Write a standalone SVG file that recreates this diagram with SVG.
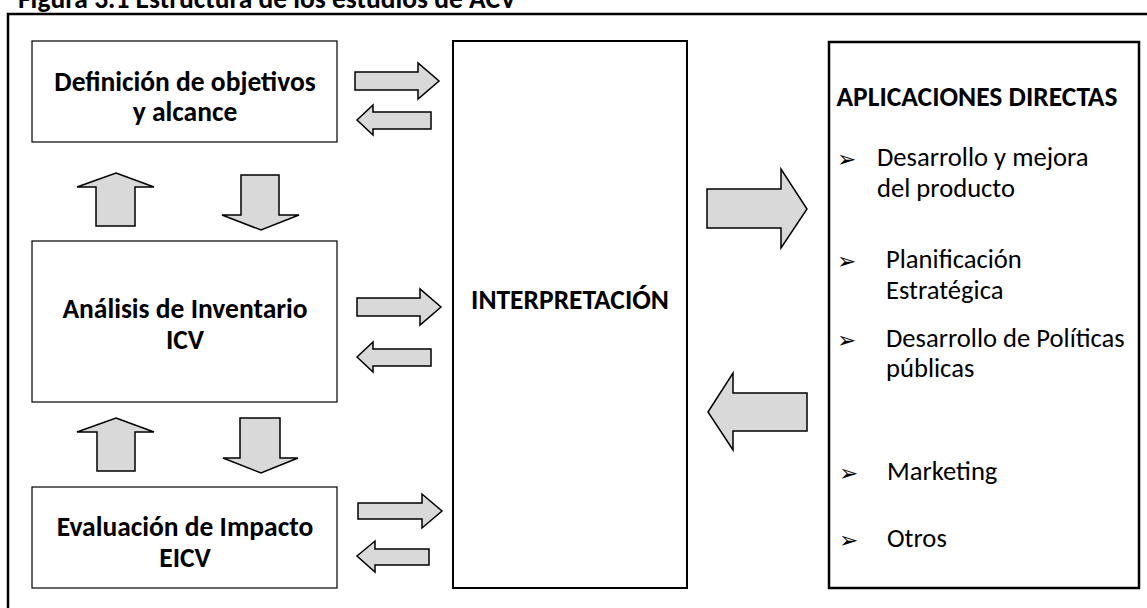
<svg xmlns="http://www.w3.org/2000/svg" width="1147" height="608" viewBox="0 0 1147 608">
  <style>
    text { font-family: Carlito, Lato, "Liberation Sans", sans-serif; fill: #000; }
    .b { font-weight: bold; font-size: 27.5px; text-anchor: middle; }
    .r { font-size: 26.6px; }
    .bul { font-family: "DejaVu Sans", sans-serif; font-size: 23px; }
    .box { fill: #fff; stroke: #000; stroke-width: 1.2; }
    .bigbox { fill: #fff; stroke: #000; stroke-width: 2; }
    .arr { fill: #d9d9d9; stroke: #000; stroke-width: 1.5; stroke-linejoin: miter; }
  </style>
  <rect width="1147" height="608" fill="#fff"/>

  <!-- title, clipped by the top edge -->
  <text x="18" y="8" font-size="27.5" font-weight="bold">Figura 3.1 Estructura de los estudios de ACV</text>

  <!-- outer frame running off the right and bottom edges -->
  <rect x="8" y="14" width="1160" height="620" fill="none" stroke="#000" stroke-width="2.5"/>

  <g id="definicion">
    <rect class="box" x="32" y="41" width="305" height="101"/>
    <text class="b" x="185" y="91">Definición de objetivos</text>
    <text class="b" x="185" y="121">y alcance</text>
  </g>

  <g id="analisis">
    <rect class="box" x="32" y="241" width="305" height="161"/>
    <text class="b" x="185" y="318">Análisis de Inventario</text>
    <text class="b" x="185" y="349">ICV</text>
  </g>

  <g id="evaluacion">
    <rect class="box" x="32" y="487" width="305" height="101"/>
    <text class="b" x="185" y="536">Evaluación de Impacto</text>
    <text class="b" x="185" y="567">EICV</text>
  </g>

  <g id="interpretacion">
    <rect class="bigbox" x="453" y="41" width="234" height="547"/>
    <text class="b" x="570" y="309">INTERPRETACIÓN</text>
  </g>

  <g id="aplicaciones">
    <rect x="829" y="42" width="310" height="546" fill="#fff" stroke="#000" stroke-width="2.5"/>
    <text class="b" x="977" y="106">APLICACIONES DIRECTAS</text>
    <text class="bul" x="837" y="167">➢</text>
    <text class="r" x="877" y="166">Desarrollo y mejora</text>
    <text class="r" x="877" y="197">del producto</text>
    <text class="bul" x="837" y="269">➢</text>
    <text class="r" x="886" y="268">Planificación</text>
    <text class="r" x="886" y="299">Estratégica</text>
    <text class="bul" x="837" y="348">➢</text>
    <text class="r" x="886" y="347">Desarrollo de Políticas</text>
    <text class="r" x="886" y="377">públicas</text>
    <text class="bul" x="839" y="481">➢</text>
    <text class="r" x="887" y="480">Marketing</text>
    <text class="bul" x="839" y="548">➢</text>
    <text class="r" x="887" y="547">Otros</text>
  </g>

  <g id="connectors">
    <!-- definicion <-> interpretacion -->
    <polygon class="arr" points="355,72 418,72 418,63 439,81 418,99 418,90 355,90"/>
    <polygon class="arr" points="357,120 373,105 373,112 431,112 431,129 373,129 373,135"/>
    <!-- analisis <-> interpretacion -->
    <polygon class="arr" points="357,298 420,298 420,289 441,307 420,325 420,316 357,316"/>
    <polygon class="arr" points="357,357 373,342 373,349 431,349 431,366 373,366 373,372"/>
    <!-- evaluacion <-> interpretacion -->
    <polygon class="arr" points="358,503 422,503 422,494 442,511 422,528 422,519 358,519"/>
    <polygon class="arr" points="357,556 375,541 375,549 429,549 429,565 375,565 375,572"/>
    <!-- definicion <-> analisis -->
    <polygon class="arr" points="116,173 154,187 135,187 135,226 96,226 96,187 77,187"/>
    <polygon class="arr" points="241,175 279,175 279,215 299,215 261,230 222,215 241,215"/>
    <!-- analisis <-> evaluacion -->
    <polygon class="arr" points="116,418 154,432 135,432 135,471 97,471 97,432 77,432"/>
    <polygon class="arr" points="240,418 280,418 280,458 298,458 261,473 223,458 240,458"/>
    <!-- interpretacion <-> aplicaciones -->
    <polygon class="arr" points="707,189 781,189 781,169 807,209 781,248 781,228 707,228"/>
    <polygon class="arr" points="708,412 733,373 733,393 807,393 807,431 733,431 733,450"/>
  </g>
</svg>
